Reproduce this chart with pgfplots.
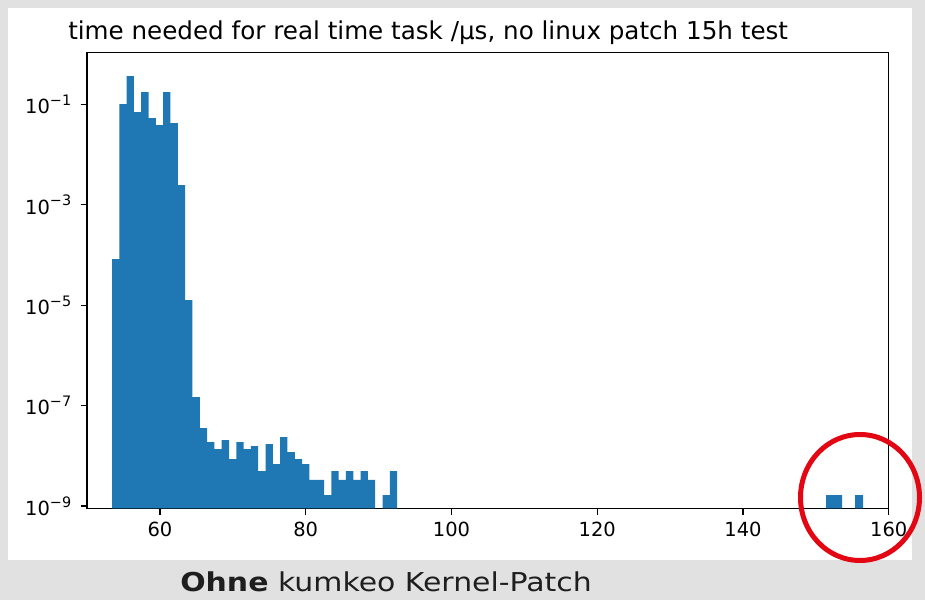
\documentclass[border=0pt]{standalone}
\usepackage{pgfplots}
\pgfplotsset{compat=1.18}
\usepackage{fontspec}
\setmainfont{DejaVu Sans}
\newfontfamily\capfont[FakeStretch=1.15]{DejaVu Sans}
\definecolor{bgray}{RGB}{225,225,225}
\definecolor{barblue}{HTML}{1F77B4}
\definecolor{circred}{RGB}{227,6,19}
\definecolor{captxt}{RGB}{30,30,30}
\newcommand{\ex}[1]{10\raisebox{0.42em}{\fontsize{10.8}{12}\selectfont −#1}}
\begin{document}
\begin{tikzpicture}[x=0.75pt,y=0.75pt]
\fill[bgray] (0,0) rectangle (925,600);
\fill[white] (8,40) rectangle (912,592);
\begin{axis}[
  at={(65.33pt,68.78pt)}, anchor=south west,
  scale only axis, width=601.2pt, height=341.7pt,
  xmin=50, xmax=160, ymode=log, ymin=9e-10, ymax=1.07,
  log origin=infty,
  xtick={60,80,100,120,140,160},
  ytick={1e-9,1e-7,1e-5,1e-3,1e-1},
  yticklabels={\ex{9},\ex{7},\ex{5},\ex{3},\ex{1}},
  xminorticks=false, yminorticks=false,
  xtick pos=bottom, ytick pos=left, tick align=outside,
  major tick length=4.9pt,
  axis line style={line width=1pt},
  every tick/.style={black, line width=1pt},
  ticklabel style={font=\fontsize{14.6}{17}\selectfont},
  xticklabel style={yshift=-2pt},
  yticklabel style={xshift=-3.5pt},
  /pgf/number format/assume math mode=true,
  clip=true,
]
\addplot[ybar, bar shift=0pt, bar width=1.0032, fill=barblue, draw=none] coordinates {
(53.92,8.28e-5) (54.92,0.101) (55.92,0.366) (56.93,0.0703) (57.93,0.176)
(58.94,0.0533) (59.94,0.0387) (60.94,0.176) (61.95,0.0424) (62.95,2.47e-3)
(63.95,1.26e-5) (64.96,1.48e-7) (65.96,3.57e-8) (66.96,1.88e-8) (67.96,1.36e-8)
(68.97,2.06e-8) (69.97,8.6e-9) (70.97,1.88e-8) (71.98,1.36e-8) (72.98,1.56e-8)
(73.98,4.96e-9) (74.99,1.71e-8) (75.99,6.84e-9) (76.99,2.36e-8) (78.00,1.19e-8)
(79.00,8.6e-9) (80.00,6.84e-9) (81.01,3.31e-9) (82.01,3.31e-9) (83.01,1.65e-9)
(84.02,4.96e-9) (85.02,3.31e-9) (86.02,4.96e-9) (87.03,3.31e-9) (88.03,4.96e-9)
(89.03,3.31e-9) (91.04,1.65e-9) (92.04,4.96e-9)
};
\addplot[ybar, bar shift=0pt, bar width=1.1, fill=barblue, draw=none] coordinates {
(151.95,1.65e-9) (153.05,1.65e-9) (155.94,1.65e-9)
};
\end{axis}
\node[anchor=base west, inner sep=0pt, font=\fontsize{18.45}{21}\selectfont] at (68,560) {time needed for real time task /µs, no linux patch 15h test};
\node[anchor=base west, inner sep=0pt, text=captxt, font=\capfont\fontsize{19.5}{22}\selectfont] at (180,8.5) {\textbf{Ohne} kumkeo Kernel-Patch};
\draw[circred, line width=3.75pt] (860,102.5) ellipse [x radius=59.5, y radius=63];
\end{tikzpicture}
\end{document}
